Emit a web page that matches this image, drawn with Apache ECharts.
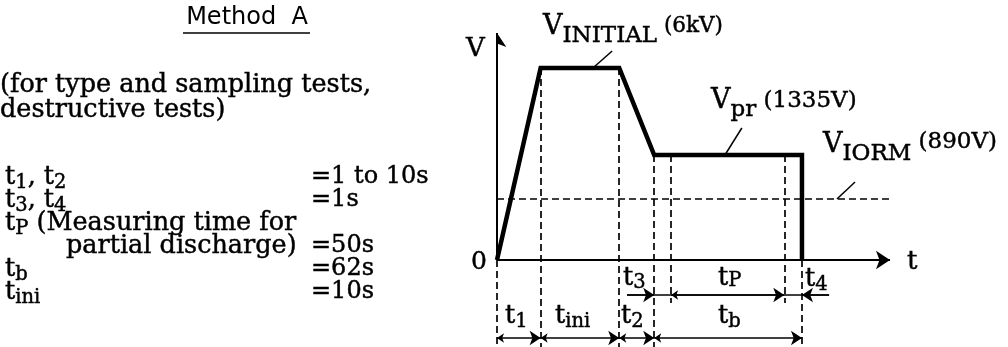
<!DOCTYPE html>
<html>
<head>
<meta charset="utf-8">
<script src="https://cdn.jsdelivr.net/npm/echarts@6/dist/echarts.min.js"></script>
<style>
  html, body { margin: 0; padding: 0; background: #fff; }
  #chart { width: 1008px; height: 347px; }
</style>
</head>
<body>
<div id="chart"></div>
<script>
// schematic units: t runs 0..100 along the axis, V in tenths of the drawing height
const waveT = [0, 11.1, 31.1, 40.0, 77.6, 77.6]
const waveV = [0, 19.2, 19.2, 10.5, 10.5, 0]
const viormLevel = 6.1
const tAxisEnd = 100
const vAxisEnd = 22.7

// dimension rows below the t axis
const rowMeasure = -3.5
const rowTotal = -7.8
const floorV = -8.7
const tpStart = 44.3
const tpEnd = 73.1
const tpDashEnd = -4.3
const t3From = 33.1
const t4From = 84.5

// boundaries of t1, tini, t2, tb
const totalMarks = [0, 11.1, 31.1, 40.0, 77.6]

// leader lines pointing to the level labels
const leaders = [
    [[24.7, 19.3], [29.3, 20.9]],
    [[58.0, 10.5], [62.3, 13.2]],
    [[86.5, 6.1], [91.1, 7.8]]
]

const specRows = [
    { indent: 5, name: [['t', 0], ['1', 1], [', t', 0], ['2', 1]], value: '=1 to 10s' },
    { indent: 5, name: [['t', 0], ['3', 1], [', t', 0], ['4', 1]], value: '=1s' },
    { indent: 5, name: [['t', 0], ['P', 1], [' (Measuring time for', 0]], value: '' },
    { indent: 66, name: [['partial discharge)', 0]], value: '=50s' },
    { indent: 5, name: [['t', 0], ['b', 1]], value: '=62s' },
    { indent: 5, name: [['t', 0], ['ini', 1]], value: '=10s' }
]

const serif = '"DejaVu Serif", "Liberation Serif", serif'
const ctx = document.createElement('canvas').getContext('2d')
const measure = (text, size) => {
    ctx.font = size + 'px ' + serif
    return ctx.measureText(text).width
}

// place a run of text pieces: [text, size, dy]
function run(x, y, parts) {
    const out = []
    let cx = x
    parts.forEach(([text, size, dy]) => {
        out.push({
            type: 'text', x: cx, y: y + dy, silent: true,
            style: {
                text: text, fontSize: size, fontFamily: serif, fill: '#000',
                stroke: '#000', lineWidth: 0.45, verticalAlign: 'middle', align: 'left'
            }
        })
        cx += measure(text, size)
    })
    return out
}

const MAIN = 25.5
const SUB = 19.5
const VALUE = 24

const graphics = []
graphics.push({
    type: 'text', x: 247, y: 18,
    style: { text: 'Method  A', fontSize: 24, fontFamily: '"DejaVu Sans", sans-serif', fill: '#000', align: 'center', verticalAlign: 'middle' }
})
graphics.push({ type: 'line', shape: { x1: 183, y1: 33, x2: 310, y2: 33 }, style: { stroke: '#000', lineWidth: 1.5 } })
graphics.push(...run(0, 85, [['(for type and sampling tests,', MAIN, 0]]))
graphics.push(...run(0, 110, [['destructive tests)', MAIN, 0]]))

specRows.forEach((row, i) => {
    const y = 177 + i * 23
    graphics.push(...run(row.indent, y, row.name.map(([t, s]) => s ? [t, SUB, 6] : [t, MAIN, 0])))
    if (row.value) graphics.push(...run(311, y, [[row.value, VALUE, 0]]))
})

// diagram labels
graphics.push(...run(466, 49, [['V', 26, 0]]))
graphics.push(...run(471, 262, [['0', 25, 0]]))
graphics.push(...run(907, 262, [['t', 26, 0]]))
graphics.push(...run(543, 27, [['V', 27, 0], ['INITIAL', 23, 9], [' (6kV)', 21.5, -1]]))
graphics.push(...run(711, 101, [['V', 27, 0], ['pr', 23, 9], [' (1335V)', 23, 0]]))
graphics.push(...run(823, 145, [['V', 27, 0], ['IORM', 23, 9], [' (890V)', 23, -3]]))
graphics.push(...run(623, 278, [['t', MAIN, 0], ['3', SUB, 5]]))
graphics.push(...run(718, 278, [['t', MAIN, 0], ['P', SUB, 3]]))
graphics.push(...run(805, 279, [['t', MAIN, 0], ['4', SUB, 6]]))
graphics.push(...run(505, 316, [['t', MAIN, 0], ['1', SUB, 6]]))
graphics.push(...run(555, 316, [['t', MAIN, 0], ['ini', SUB, 6]]))
graphics.push(...run(621, 316, [['t', MAIN, 0], ['2', SUB, 6]]))
graphics.push(...run(718, 316, [['t', MAIN, 0], ['b', SUB, 6]]))

const seg = (a, b) => ({ coords: [a, b] })
const dashed = [7, 4]

const dashSegs = [
    seg([0, 0], [0, floorV]),
    seg([waveT[1], waveV[1]], [waveT[1], floorV]),
    seg([waveT[2], waveV[2]], [waveT[2], floorV]),
    seg([waveT[3], waveV[3]], [waveT[3], floorV]),
    seg([tpStart, waveV[3]], [tpStart, tpDashEnd]),
    seg([tpEnd, waveV[3]], [tpEnd, tpDashEnd]),
    seg([waveT[4], 0], [waveT[4], floorV]),
    seg([0, viormLevel], [tAxisEnd, viormLevel])
]

const totalArrows = totalMarks.slice(1).map((t, i) => seg([totalMarks[i], rowTotal], [t, rowTotal]))

const linesSeries = (data, width, type, symbol, size, z) => ({
    type: 'lines', coordinateSystem: 'cartesian2d', polyline: false, silent: true, z: z,
    symbol: symbol, symbolSize: size, data: data,
    lineStyle: { color: '#000', opacity: 1, width: width, type: type },
    itemStyle: { color: '#000' }
})

const chart = echarts.init(document.getElementById('chart'))
chart.setOption({
    animation: false,
    backgroundColor: '#fff',
    grid: { left: 497, right: 118, top: 33, bottom: 0 },
    xAxis: { type: 'value', min: 0, max: tAxisEnd, show: false },
    yAxis: { type: 'value', min: floorV, max: vAxisEnd, show: false },
    graphic: graphics,
    series: [
        linesSeries(dashSegs, 1.7, dashed, 'none', 0, 2),
        linesSeries([seg([t3From, rowMeasure], [t4From, rowMeasure])], 1.5, 'solid', 'none', 0, 3),
        linesSeries([seg([t3From, rowMeasure], [waveT[3], rowMeasure]), seg([t4From, rowMeasure], [waveT[4], rowMeasure])], 1.5, 'solid', ['none', 'arrow'], [7, 11], 3),
        linesSeries([seg([tpStart, rowMeasure], [tpEnd, rowMeasure])].concat(totalArrows), 1.5, 'solid', ['arrow', 'arrow'], [7, 11], 3),
        linesSeries([seg([0, 0], [tAxisEnd, 0]), seg([0, 0], [0, vAxisEnd])], 2, 'solid', ['none', 'arrow'], [8, 14], 4),
        linesSeries(leaders.map(l => seg(l[0], l[1])), 1.5, 'solid', 'none', 0, 4),
        {
            type: 'line', z: 5, silent: true, showSymbol: false, symbol: 'none',
            data: waveT.map((t, i) => [t, waveV[i]]),
            lineStyle: { color: '#000', width: 4.5, join: 'miter' }
        }
    ]
})
</script>
</body>
</html>
